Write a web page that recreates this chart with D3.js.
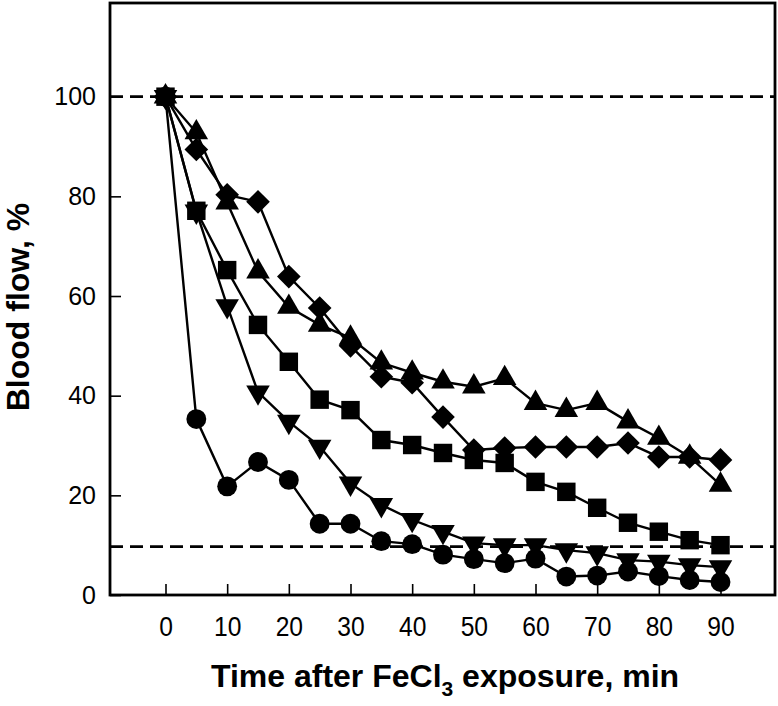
<!doctype html>
<html lang="en">
<head>
    <title>Blood flow</title>
    <script src="https://d3js.org/d3.v7.min.js"></script>
    <style type="text/css">
        body { margin: 0; background: #fff; }
        .tick line { stroke: #000; stroke-width: 1.6; }
        .xlab text { font-family: "Liberation Sans", Arial, sans-serif; font-size: 28px; }
        .ylab text { font-family: "Liberation Sans", Arial, sans-serif; font-size: 25px; }
    </style>
</head>

<body>
</body>

<script type="text/javascript">

    var times = [0, 5, 10, 15, 20, 25, 30, 35, 40, 45, 50, 55, 60, 65, 70, 75, 80, 85, 90];

    var circles   = [100, 35.3, 21.8, 26.7, 23.1, 14.3, 14.3, 10.8, 10.2, 8.1, 7.2, 6.4, 7.3, 3.7, 3.9, 4.7, 3.8, 3.0, 2.6];
    var downTris  = [100, 77, 58, 40.7, 34.8, 29.8, 22.4, 18.1, 15.1, 12.7, 10.4, 10.0, 10.0, 9.0, 8.4, 7.0, 6.7, 6.0, 5.6];
    var squares   = [100, 77.1, 65.2, 54.2, 46.8, 39.2, 37.1, 31.1, 30.1, 28.5, 27.1, 26.5, 22.7, 20.7, 17.5, 14.5, 12.7, 11.0, 10.0];
    var upTris    = [100, 92.8, 78.7, 64.9, 57.8, 54.2, 51.6, 46.6, 44.6, 42.8, 41.8, 43.5, 38.5, 37.1, 38.5, 34.8, 31.5, 27.7, 22.1];
    var diamonds  = [100, 89.4, 80.3, 78.9, 63.9, 57.6, 50.0, 43.8, 42.6, 35.7, 29.1, 29.5, 29.7, 29.7, 29.7, 30.5, 27.7, 27.7, 27.1];

    var refLines = [100, 9.7];
    var xTicks = [0, 10, 20, 30, 40, 50, 60, 70, 80, 90];
    var yTicks = [0, 20, 40, 60, 80, 100];

    var series = [
        {values: circles,  shape: "circle"},
        {values: downTris, shape: "down"},
        {values: squares,  shape: "square"},
        {values: upTris,   shape: "up"},
        {values: diamonds, shape: "diamond"}
    ];

    var W = 778, H = 706;
    var plotL = 110, plotR = 776, plotT = 2, plotB = 595;

    var xScale = d3.scaleLinear().domain([-9, 99]).range([plotL, plotR]);
    var yScale = d3.scaleLinear().domain([0, 119]).range([plotB, plotT]);

    var svg = d3.select("body").append("svg")
                .attr("width", W)
                .attr("height", H);

    // dashed reference lines
    svg.selectAll(".ref").data(refLines).enter().append("line")
       .attr("x1", plotL).attr("x2", plotR)
       .attr("y1", d => yScale(d)).attr("y2", d => yScale(d))
       .style("stroke", "#000").style("stroke-width", 2.8)
       .style("stroke-dasharray", "13,7");

    // axes, ticks point inward
    var xAxis = d3.axisBottom(xScale).tickValues(xTicks).tickSizeInner(-11).tickSizeOuter(0).tickPadding(21);
    var gx = svg.append("g").attr("class", "xlab")
                .attr("transform", "translate(0," + plotB + ")").call(xAxis);
    gx.select(".domain").remove();
    gx.selectAll("text").attr("fill", "#000").attr("transform", "scale(0.88,1)");

    var yAxis = d3.axisLeft(yScale).tickValues(yTicks).tickSizeInner(-11).tickSizeOuter(0).tickPadding(14);
    var gy = svg.append("g").attr("class", "ylab")
                .attr("transform", "translate(" + plotL + ",0)").call(yAxis);
    gy.select(".domain").remove();
    gy.selectAll("text").attr("fill", "#000");

    // frame
    svg.append("rect")
       .attr("x", plotL).attr("y", plotT + 1)
       .attr("width", plotR - plotL - 1).attr("height", plotB - plotT - 1)
       .style("fill", "none").style("stroke", "#000").style("stroke-width", 2.8);

    var line = d3.line()
                 .x((d, i) => xScale(times[i]))
                 .y(d => yScale(d));

    var symbolFor = {
        circle:  d3.symbol().type(d3.symbolCircle).size(310),
        square:  d3.symbol().type(d3.symbolSquare).size(340),
        diamond: d3.symbol().type(d3.symbolSquare).size(280),
        up:      d3.symbol().type(d3.symbolTriangle).size(240),
        down:    d3.symbol().type(d3.symbolTriangle).size(240)
    };
    var rotFor = {circle: 0, square: 0, diamond: 45, up: 0, down: 180};

    series.forEach(function(s) {
        var g = svg.append("g");
        g.append("path")
         .attr("d", line(s.values))
         .style("fill", "none").style("stroke", "#000").style("stroke-width", 2.4);
        g.selectAll("path.m").data(s.values).enter().append("path")
         .attr("class", "m")
         .attr("d", symbolFor[s.shape])
         .attr("transform", (d, i) => "translate(" + xScale(times[i]) + "," + yScale(d) + ") rotate(" + rotFor[s.shape] + ")")
         .style("fill", "#000");
    });

    // axis titles
    var xt = svg.append("text")
                .attr("x", 445).attr("y", 687)
                .attr("text-anchor", "middle")
                .style("font-family", "'Liberation Sans', Arial, sans-serif")
                .style("font-weight", "bold").style("font-size", "32px");
    xt.append("tspan").text("Time after FeCl");
    xt.append("tspan").attr("dy", 9).style("font-size", "21px").text("3");
    xt.append("tspan").attr("dy", -9).text(" exposure, min");

    svg.append("text")
       .attr("transform", "translate(29,307) rotate(-90)")
       .attr("text-anchor", "middle")
       .style("font-family", "'Liberation Sans', Arial, sans-serif")
       .style("font-weight", "bold").style("font-size", "32px")
       .text("Blood flow, %");

</script>

</html>
